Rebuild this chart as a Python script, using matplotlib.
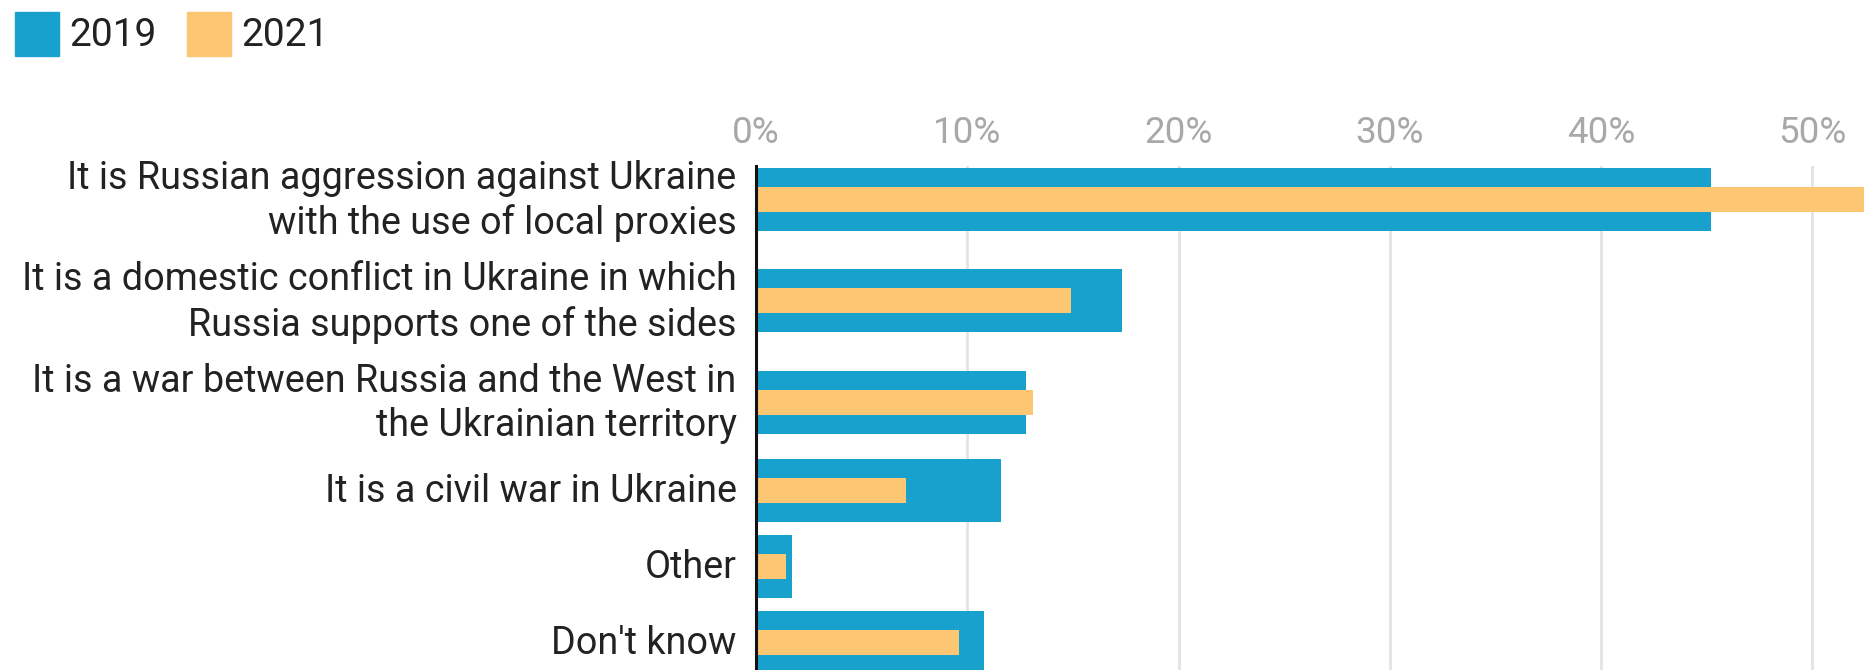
import matplotlib
matplotlib.use("Agg")
import matplotlib.pyplot as plt
from matplotlib.patches import Rectangle
from matplotlib.transforms import ScaledTranslation

plt.rcParams['font.family'] = ['Roboto', 'DejaVu Sans']

categories = [
    "It is Russian aggression against Ukraine\nwith the use of local proxies",
    "It is a domestic conflict in Ukraine in which\nRussia supports one of the sides",
    "It is a war between Russia and the West in\nthe Ukrainian territory",
    "It is a civil war in Ukraine",
    "Other",
    "Don't know",
]
series_names = ["2019", "2021"]
values_2019 = [45.2, 17.3, 12.8, 11.6, 1.7, 10.8]
values_2021 = [56.0, 14.9, 13.1, 7.1, 1.4, 9.6]
xticks = [0, 10, 20, 30, 40, 50]
xtick_labels = ["0%", "10%", "20%", "30%", "40%", "50%"]

BLUE = "#18a1cd"
ORANGE = "#fcc672"
W, H = 1865, 670
FS = 27.2

fig = plt.figure(figsize=(W / 100, H / 100), dpi=100)
ax_left_px, ax_top_px = 756, 166
ax = fig.add_axes([ax_left_px / W, 0, 1 - ax_left_px / W, 1 - ax_top_px / H])

# row layout in pixel units (y grows downward)
row_h_one, row_h_extra = 76.0, 25.3
bar_h, inner_h = 63, 25
heights = [row_h_one + row_h_extra * (c.count("\n")) for c in categories]
centers = []
y = ax_top_px + 2 + bar_h / 2
for i, h in enumerate(heights):
    if i > 0:
        y += (heights[i - 1] + h) / 2
    centers.append(y)

ax.set_ylim(H, ax_top_px)
ax.set_xlim(0, (W - ax_left_px) / 211.3 * 10)

ax.barh(centers, values_2019, height=bar_h, color=BLUE, zorder=2)
ax.barh(centers, values_2021, height=inner_h, color=ORANGE, zorder=3)

ax.set_xticks(xticks)
ax.set_xticklabels(xtick_labels)
ax.xaxis.tick_top()
ax.tick_params(axis='x', length=0, pad=10.5, labelsize=26.5, labelcolor="#a8a8a8")
ax.grid(axis='x', color="#e3e3e3", linewidth=2, zorder=0)
ax.set_axisbelow(True)

ax.set_yticks(centers)
ax.set_yticklabels(categories, fontsize=FS, color="#222222", linespacing=1.25)
ax.tick_params(axis='y', length=0, pad=14)
for lab, c in zip(ax.get_yticklabels(), categories):
    up = 6 if "\n" in c else 3
    lab.set_transform(lab.get_transform() + ScaledTranslation(0, up / 100, fig.dpi_scale_trans))

for s in ["top", "right", "bottom"]:
    ax.spines[s].set_visible(False)
ax.spines["left"].set_color("#111111")
ax.spines["left"].set_linewidth(2.2)
ax.spines["left"].set_zorder(5)

# legend
x0 = 15.5
for name, col in zip(series_names, [BLUE, ORANGE]):
    fig.patches.append(Rectangle((x0 / W, 1 - 56 / H), 44 / W, 44 / H,
                                 transform=fig.transFigure, color=col))
    fig.text((x0 + 54) / W, 1 - 36 / H, name, fontsize=28, color="#222222",
             va="center", ha="left")
    x0 += 171.5

fig.savefig("out.png", dpi=100, facecolor="white")
